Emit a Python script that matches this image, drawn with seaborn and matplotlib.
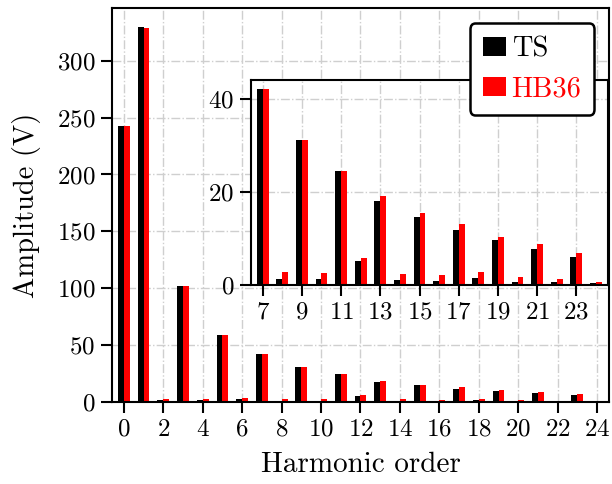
import matplotlib
matplotlib.use("Agg")
import matplotlib.pyplot as plt
import matplotlib.patches as mpatches
import pandas as pd
import seaborn as sns

# Harmonic spectrum of the output voltage, two modulation schemes
harmonics = list(range(0, 25))
ts_amp = [242.6, 329.5, 1.8, 102.1, 1.8, 59.4, 2.8, 42.0, 1.3, 31.0, 1.3, 24.4,
          5.2, 18.1, 1.1, 14.7, 0.9, 11.9, 1.5, 9.7, 0.7, 7.8, 0.7, 6.1, 0.5]
hb36_amp = [242.6, 328.6, 3.0, 102.1, 3.0, 59.4, 4.0, 42.0, 2.8, 31.0, 2.6, 24.4,
            5.9, 19.0, 2.4, 15.5, 2.2, 13.0, 2.8, 10.4, 1.8, 8.7, 1.3, 6.9, 0.7]
series_names = ["TS", "HB36"]
series_colors = ["black", "red"]

main_xticks = list(range(0, 25, 2))
main_yticks = list(range(0, 301, 50))
inset_start = 7
inset_xticks = list(range(7, 24, 2))
inset_yticks = [0, 20, 40]

df = pd.DataFrame({
    "order": harmonics * 2,
    "amp": ts_amp + hb36_amp,
    "scheme": [series_names[0]] * len(harmonics) + [series_names[1]] * len(harmonics),
})
palette = dict(zip(series_names, series_colors))

sns.set_style("white")
plt.rcParams.update({
    "font.family": "serif",
    "font.serif": ["cmr10"],
    "mathtext.fontset": "cm",
    "axes.unicode_minus": False,
    "axes.formatter.use_mathtext": True,
    "text.color": "black",
    "axes.labelcolor": "black",
    "axes.edgecolor": "black",
    "axes.linewidth": 1.5,
    "xtick.direction": "out",
    "ytick.direction": "out",
    "xtick.major.size": 8,
    "ytick.major.size": 8,
    "xtick.major.width": 1.5,
    "ytick.major.width": 1.5,
    "xtick.color": "black",
    "ytick.color": "black",
    "xtick.labelcolor": "black",
    "ytick.labelcolor": "black",
    "xtick.bottom": True,
    "ytick.left": True,
    "font.size": 18,
})

fig = plt.figure(figsize=(6.12, 4.84), dpi=100)
ax = fig.add_axes([0.183, 0.169, 0.812, 0.814])


def draw_bars(axis, data):
    sns.barplot(data=data, x="order", y="amp", hue="scheme", hue_order=series_names,
                palette=palette, native_scale=True, width=0.6, dodge=True, gap=0,
                saturation=1, errorbar=None, linewidth=0, ax=axis, legend=False)
    axis.set_axisbelow(True)
    axis.grid(True, color="#cfcfcf", linestyle="-.", linewidth=1.0)


draw_bars(ax, df)
ax.set_xlim(-0.6, 24.6)
ax.set_ylim(0, 346)
ax.set_xticks(main_xticks)
ax.set_yticks(main_yticks)
ax.tick_params(labelsize=18, pad=4)
ax.set_xlabel("Harmonic order", fontsize=21)
ax.set_ylabel("Amplitude (V)", fontsize=20.5)
ax.xaxis.set_label_coords(0.5, -0.125)
ax.yaxis.set_label_coords(-0.142, 0.5)

# Zoomed view of the higher-order harmonics
axin = fig.add_axes([0.410, 0.411, 0.583, 0.424])
axin.set_facecolor("white")
draw_bars(axin, df[df["order"] >= inset_start])
axin.set_xlim(inset_start - 0.6, 24.6)
axin.set_ylim(0, 44)
axin.set_xticks(inset_xticks)
axin.set_yticks(inset_yticks)
axin.tick_params(labelsize=18, pad=4)
axin.set_xlabel("")
axin.set_ylabel("")

handles = [mpatches.Patch(facecolor=c, edgecolor="none", label=n)
           for n, c in zip(series_names, series_colors)]
leg = fig.legend(handles=handles, loc="upper right",
                 bbox_to_anchor=(0.971, 0.952), borderaxespad=0, fontsize=20.5,
                 handlelength=0.82, handleheight=0.66, handletextpad=0.2,
                 borderpad=0.45, labelspacing=0.48, frameon=True, fancybox=True,
                 framealpha=1)
leg.get_frame().set_edgecolor("black")
leg.get_frame().set_linewidth(1.8)
for txt, c in zip(leg.get_texts(), series_colors):
    txt.set_color(c)

fig.savefig("out.png", dpi=100)
